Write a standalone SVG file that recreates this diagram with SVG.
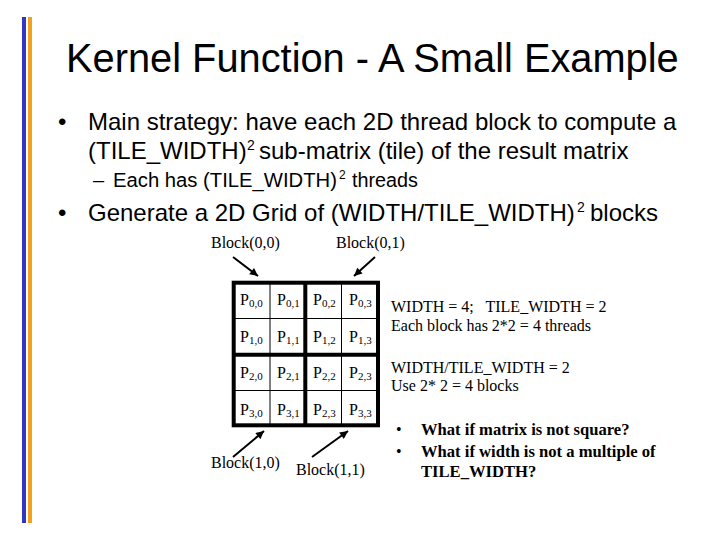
<svg xmlns="http://www.w3.org/2000/svg" width="720" height="540" viewBox="0 0 720 540">
  <style>
    .sans { font-family: "Liberation Sans", Arial, sans-serif; fill: #000; }
    .serif { font-family: "Liberation Serif", "Times New Roman", serif; fill: #000; }
    .t24 { font-size: 24px; }
    .t20 { font-size: 20px; }
    .sup24 { font-size: 14px; }
    .sup20 { font-size: 12px; }
    .lbl { font-size: 16px; }
    .cell { font-size: 16px; }
    .sub { font-size: 11px; }
    .bold { font-size: 16.6px; font-weight: bold; }
    .thin { stroke: #000; stroke-width: 1; fill: none; }
    .thick { stroke: #000; stroke-width: 4; fill: none; }
    .arrow { stroke: #000; stroke-width: 2; fill: none; marker-end: url(#ah); }
  </style>
  <defs>
    <marker id="ah" viewBox="0 0 10 10" refX="10" refY="5" markerWidth="9" markerHeight="8" markerUnits="userSpaceOnUse" orient="auto">
      <path d="M0,0 L10,5 L0,10 z" fill="#000"/>
    </marker>
  </defs>
  <rect width="720" height="540" fill="#fff"/>

  <!-- left decorative bars -->
  <rect x="22" y="17" width="4" height="506" fill="#3535c2"/>
  <rect x="28" y="17" width="4" height="506" fill="#f3a020"/>

  <!-- title -->
  <text id="title" class="sans" x="66" y="72" font-size="39.8">Kernel Function - A Small Example</text>

  <!-- bullets -->
  <g id="bullets">
    <text class="sans t24" x="58" y="130">•</text>
    <text class="sans t24" x="88" y="130">Main strategy: have each 2D thread block to compute a</text>
    <text class="sans t24" x="88" y="159">(TILE_WIDTH)</text>
    <text class="sans sup24" x="247" y="150">2</text>
    <text class="sans t24" x="259" y="159">sub-matrix (tile) of the result matrix</text>
    <text class="sans t20" x="93" y="187">–</text>
    <text class="sans t20" x="113" y="187" textLength="224" lengthAdjust="spacingAndGlyphs">Each has (TILE_WIDTH)</text>
    <text class="sans sup20" x="339" y="179">2</text>
    <text class="sans t20" x="352" y="187" textLength="66" lengthAdjust="spacingAndGlyphs">threads</text>
    <text class="sans t24" x="58" y="221">•</text>
    <text class="sans t24" x="88" y="221">Generate a 2D Grid of (WIDTH/TILE_WIDTH)</text>
    <text class="sans sup24" x="577" y="212">2</text>
    <text class="sans t24" x="590" y="221">blocks</text>
  </g>

  <!-- matrix grid -->
  <g id="grid">
    <line class="thin" x1="270" y1="282" x2="270" y2="425"/>
    <line class="thin" x1="341.5" y1="282" x2="341.5" y2="425"/>
    <line class="thin" x1="233" y1="318.5" x2="378" y2="318.5"/>
    <line class="thin" x1="233" y1="390.5" x2="378" y2="390.5"/>
    <line class="thick" x1="305.3" y1="282" x2="305.3" y2="425"/>
    <line class="thick" x1="233" y1="354.7" x2="378" y2="354.7"/>
    <rect class="thick" x="233.7" y="282.7" width="144.3" height="142.6"/>
  </g>

  <g id="cells" class="serif">
    <text class="cell" x="240" y="305">P<tspan class="sub" dy="2">0,0</tspan></text>
    <text class="cell" x="277" y="305">P<tspan class="sub" dy="2">0,1</tspan></text>
    <text class="cell" x="313" y="305">P<tspan class="sub" dy="2">0,2</tspan></text>
    <text class="cell" x="349" y="305">P<tspan class="sub" dy="2">0,3</tspan></text>
    <text class="cell" x="240" y="342">P<tspan class="sub" dy="2">1,0</tspan></text>
    <text class="cell" x="277" y="342">P<tspan class="sub" dy="2">1,1</tspan></text>
    <text class="cell" x="313" y="342">P<tspan class="sub" dy="2">1,2</tspan></text>
    <text class="cell" x="349" y="342">P<tspan class="sub" dy="2">1,3</tspan></text>
    <text class="cell" x="240" y="378">P<tspan class="sub" dy="2">2,0</tspan></text>
    <text class="cell" x="277" y="378">P<tspan class="sub" dy="2">2,1</tspan></text>
    <text class="cell" x="313" y="378">P<tspan class="sub" dy="2">2,2</tspan></text>
    <text class="cell" x="349" y="378">P<tspan class="sub" dy="2">2,3</tspan></text>
    <text class="cell" x="240" y="415">P<tspan class="sub" dy="2">3,0</tspan></text>
    <text class="cell" x="277" y="415">P<tspan class="sub" dy="2">3,1</tspan></text>
    <text class="cell" x="313" y="415">P<tspan class="sub" dy="2">2,3</tspan></text>
    <text class="cell" x="349" y="415">P<tspan class="sub" dy="2">3,3</tspan></text>
  </g>

  <!-- block labels -->
  <g id="block00"><text class="serif lbl" x="211" y="248">Block(0,0)</text></g>
  <g id="block01"><text class="serif lbl" x="336" y="248">Block(0,1)</text></g>
  <g id="block10"><text class="serif lbl" x="211" y="468">Block(1,0)</text></g>
  <g id="block11"><text class="serif lbl" x="296" y="475">Block(1,1)</text></g>

  <!-- connectors -->
  <g id="connectors">
    <line class="arrow" x1="233" y1="257" x2="258" y2="276"/>
    <line class="arrow" x1="375" y1="257" x2="354" y2="276"/>
    <line class="arrow" x1="233" y1="457" x2="264" y2="431"/>
    <line class="arrow" x1="312" y1="457" x2="348" y2="431"/>
  </g>

  <!-- notes -->
  <g id="notes" class="serif">
    <text class="lbl" x="391" y="312" xml:space="preserve">WIDTH = 4;   TILE_WIDTH = 2</text>
    <text class="lbl" x="391" y="331">Each block has 2*2 = 4 threads</text>
    <text class="lbl" x="391" y="373">WIDTH/TILE_WIDTH = 2</text>
    <text class="lbl" x="391" y="391">Use 2* 2 = 4 blocks</text>
  </g>

  <g id="questions" class="serif">
    <text class="lbl" x="396" y="435">•</text>
    <text class="bold" x="421" y="435">What if matrix is not square?</text>
    <text class="lbl" x="396" y="457">•</text>
    <text class="bold" x="421" y="457">What if width is not a multiple of</text>
    <text class="bold" x="421" y="477">TILE_WIDTH?</text>
  </g>
</svg>
